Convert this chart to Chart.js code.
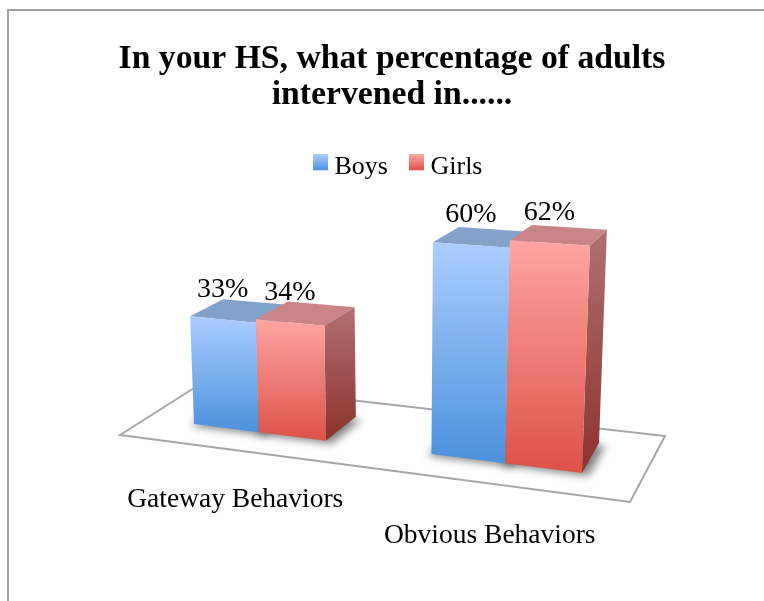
<!DOCTYPE html>
<html><head><meta charset="utf-8">
<style>html,body{margin:0;padding:0;background:#fff}canvas{display:block}</style>
<script src="https://cdn.jsdelivr.net/npm/chart.js@4"></script></head>
<body><canvas id="c" width="764" height="601"></canvas>
<script>
const categories = ["Gateway Behaviors", "Obvious Behaviors"];
const boys = [33, 60];
const girls = [34, 62];
const seriesNames = ["Boys", "Girls"];
const titleLines = ["In your HS, what percentage of adults", "intervened in......"];
const yMax = 70;

function solve(A, b) {
  const n = b.length, M = A.map((r, i) => [...r, b[i]]);
  for (let i = 0; i < n; i++) {
    let p = i;
    for (let k = i + 1; k < n; k++) if (Math.abs(M[k][i]) > Math.abs(M[p][i])) p = k;
    [M[i], M[p]] = [M[p], M[i]];
    for (let k = 0; k < n; k++) if (k !== i) {
      const f = M[k][i] / M[i][i];
      for (let j = i; j <= n; j++) M[k][j] -= f * M[i][j];
    }
  }
  return M.map((r, i) => r[n] / r[i]);
}
function homography(src, dst) {
  const A = [], b = [];
  src.forEach((s, i) => {
    const [x, y] = s, [u, v] = dst[i];
    A.push([x, y, 1, 0, 0, 0, -u * x, -u * y]); b.push(u);
    A.push([0, 0, 0, x, y, 1, -v * x, -v * y]); b.push(v);
  });
  const h = solve(A, b);
  return (x, y) => {
    const w = h[6] * x + h[7] * y + 1;
    return [(h[0] * x + h[1] * y + h[2]) / w, (h[3] * x + h[4] * y + h[5]) / w];
  };
}
// 3D view frame: plot-space (axis fraction, value fraction) to page, for the front and back planes of the bars
const aL = 0.75 / 7, aR = 6.25 / 7;
const unitFrame = [[aL, 0], [aR, 0], [aR, 1], [aL, 1]];
const frontPlane = homography(unitFrame, [[194, 424], [582, 473], [591, 215], [185.5, 190.5]]);
const backPlane = homography(unitFrame, [[227, 403], [599, 443], [608, 201], [218.5, 177.5]]);
const floorPlane = homography([[0, 0], [1, 0], [1, 1], [0, 1]], [[120, 435], [630, 502], [665, 436], [202, 383]]);

function project(a, v, t) {
  const f = frontPlane(a, v), b = backPlane(a, v);
  return [f[0] + (b[0] - f[0]) * t, f[1] + (b[1] - f[1]) * t];
}
function poly(ctx, pts) {
  ctx.beginPath();
  pts.forEach((p, i) => i ? ctx.lineTo(p[0], p[1]) : ctx.moveTo(p[0], p[1]));
  ctx.closePath();
}
const palette = [
  { top: "#82a2c9", f0: "#abcdff", f1: "#4b92dc", s0: "#6f90b8", s1: "#2f5f95" },
  { top: "#c98585", f0: "#ffa5a3", f1: "#dc5247", s0: "#b07070", s1: "#8c332e" }
];
function legendSwatch(c) {
  const cv = document.createElement("canvas");
  cv.width = 15; cv.height = 26;
  const g = cv.getContext("2d"), gr = g.createLinearGradient(0, 0, 0, 16);
  gr.addColorStop(0, c.f0); gr.addColorStop(1, c.f1);
  g.fillStyle = gr; g.fillRect(0, 0, 15, 16);
  return cv;
}
const view3d = {
  id: "view3d",
  afterLayout(chart) {
    chart.legend.left += 9; chart.legend.right += 9;
  },
  beforeDraw(chart) {
    const ctx = chart.ctx;
    ctx.save();
    ctx.fillStyle = "#fff"; ctx.fillRect(0, 0, 764, 601);
    ctx.strokeStyle = "#a0a0a0"; ctx.lineWidth = 2;
    ctx.beginPath(); ctx.moveTo(8, 601); ctx.lineTo(8, 10); ctx.lineTo(764, 10); ctx.stroke();
    ctx.restore();
  },
  afterDatasetsDraw(chart) {
    const ctx = chart.ctx, area = chart.chartArea, ys = chart.scales.y, xs = chart.scales.x;
    const A = px => (px - area.left) / area.width;
    const V = py => ys.getValueForPixel(py) / yMax;
    ctx.save();
    // floor
    const fl = [[0, 0], [1, 0], [1, 1], [0, 1]].map(p => floorPlane(p[0], p[1]));
    poly(ctx, fl);
    ctx.fillStyle = "#fff"; ctx.fill();
    ctx.strokeStyle = "#a6a6a6"; ctx.lineWidth = 2; ctx.lineJoin = "miter"; ctx.stroke();
    // shadows
    chart.getSortedVisibleDatasetMetas().forEach(meta => meta.data.forEach(bar => {
      const a0 = A(bar.x - bar.width / 2) - 0.008, a1 = A(bar.x + bar.width / 2) + 0.012;
      ctx.save();
      ctx.filter = "blur(4px)";
      ctx.fillStyle = "rgba(0,0,0,0.5)";
      poly(ctx, [project(a0, 0, 0), project(a1, 0, 0), project(a1, 0, 1), project(a0, 0, 1)].map(p => [p[0], p[1] + 2]));
      ctx.fill();
      ctx.restore();
    }));
    // bars
    chart.getSortedVisibleDatasetMetas().forEach(meta => {
      const c = palette[meta.index];
      meta.data.forEach(bar => {
        const a0 = A(bar.x - bar.width / 2), a1 = A(bar.x + bar.width / 2), v = V(bar.y);
        const ft0 = project(a0, v, 0), ft1 = project(a1, v, 0), fb0 = project(a0, 0, 0), fb1 = project(a1, 0, 0);
        const bt0 = project(a0, v, 1), bt1 = project(a1, v, 1), bb1 = project(a1, 0, 1);
        poly(ctx, [ft0, ft1, bt1, bt0]); ctx.fillStyle = c.top; ctx.fill();
        let g = ctx.createLinearGradient(0, bt1[1], 0, fb1[1]);
        g.addColorStop(0, c.s0); g.addColorStop(1, c.s1);
        poly(ctx, [ft1, bt1, bb1, fb1]); ctx.fillStyle = g; ctx.fill();
        g = ctx.createLinearGradient(0, Math.min(ft0[1], ft1[1]), 0, Math.max(fb0[1], fb1[1]));
        g.addColorStop(0, c.f0); g.addColorStop(1, c.f1);
        poly(ctx, [ft0, ft1, fb1, fb0]); ctx.fillStyle = g; ctx.fill();
      });
    });
    // value labels
    ctx.fillStyle = "#000"; ctx.textAlign = "center"; ctx.textBaseline = "middle";
    ctx.font = "28px 'Liberation Serif'";
    chart.getSortedVisibleDatasetMetas().forEach(meta => {
      const vals = chart.data.datasets[meta.index].data;
      meta.data.forEach((bar, i) => {
        const p = project(A(bar.x), V(bar.y), 0);
        ctx.fillText(vals[i] + "%", p[0], p[1] - 30);
      });
    });
    // category labels
    ctx.font = "27.5px 'Liberation Serif'";
    categories.forEach((name, i) => {
      const p = project(A(xs.getPixelForValue(i)), 0, -0.8);
      ctx.fillText(name, p[0] + 2, p[1] + 50);
    });
    ctx.restore();
  }
};
new Chart(document.getElementById("c"), {
  type: "bar",
  data: {
    labels: categories,
    datasets: [
      { label: seriesNames[0], data: boys, backgroundColor: "transparent", pointStyle: legendSwatch(palette[0]) },
      { label: seriesNames[1], data: girls, backgroundColor: "transparent", pointStyle: legendSwatch(palette[1]) }
    ]
  },
  options: {
    responsive: false, animation: false,
    layout: { padding: { left: 20, right: 0, top: 0, bottom: 0 } },
    datasets: { bar: { categoryPercentage: 2 / 3.5, barPercentage: 1 } },
    scales: {
      x: { display: false },
      y: { display: false, min: 0, max: yMax }
    },
    plugins: {
      tooltip: { enabled: false },
      title: {
        display: true, text: titleLines, color: "#000",
        font: { family: "'Liberation Serif'", size: 33.7, weight: "bold", lineHeight: 1.08 },
        padding: { top: 41, bottom: 13 }
      },
      legend: {
        position: "top",
        labels: { usePointStyle: true, pointStyleWidth: 2, color: "#000", padding: 27.5, font: { family: "'Liberation Serif'", size: 26 } }
      }
    }
  },
  plugins: [view3d]
});
</script></body></html>
